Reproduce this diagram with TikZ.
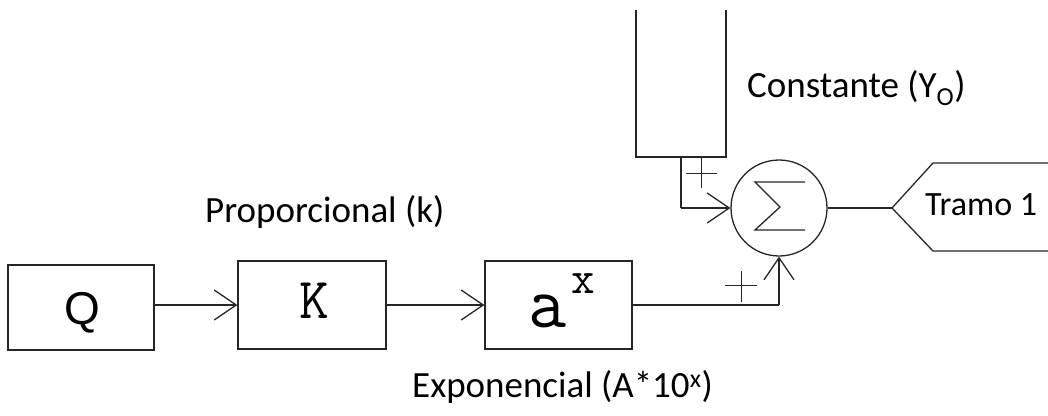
\documentclass[tikz,border=0pt]{standalone}
\usepackage{fontspec}
\setmainfont{Carlito}
\newfontfamily\qfnt{Liberation Sans}
\usetikzlibrary{arrows.meta}
\tikzset{
  ln/.style={line width=1.3pt, draw=black!85},
  blk/.style={ln, rectangle, inner sep=0pt},
  arr/.style={ln, -{Straight Barb[length=22pt, width=30pt, line width=1.3pt]}},
  lbl/.style={font=\fontsize{37}{40}\selectfont, inner sep=0pt, anchor=base west},
  plus/.style={line width=1pt, draw=black!85}
}
\begin{document}
\begin{tikzpicture}[x=1pt,y=-1pt]
\useasboundingbox (0,0) rectangle (1048,415);
% blocks
\node[blk, minimum width=146pt, minimum height=85pt] (Q) at (81,307.5) {};
\node[blk, minimum width=148pt, minimum height=88pt] (K) at (312,305) {};
\node[blk, minimum width=147pt, minimum height=88pt] (A) at (558.5,305) {};
\node[ln, circle, minimum size=96pt, inner sep=0pt] (S) at (779,208) {};
% block texts
\node[anchor=base, inner sep=0pt] (qt) at (82,324) {\qfnt\fontsize{46}{50}\selectfont Q};
\node[anchor=base, inner sep=0pt, font=\ttfamily\fontsize{58}{60}\selectfont] (kt) at (314,318) {K};
\node[anchor=base, inner sep=0pt, font=\ttfamily\fontsize{74}{76}\selectfont] (at) at (548,327) {a};
\node[anchor=base, inner sep=0pt, font=\ttfamily\fontsize{46}{48}\selectfont] (xt) at (583,293) {x};
% sigma
\draw[ln] (805,182) -- (755,182) -- (780,207) -- (755,230) -- (805,230);
% constant source (open top)
\coordinate (c1) at (636,10);
\coordinate (c2) at (726,10);
\coordinate (cb) at (681,157);
\draw[ln] (c1) -- (636,157) -- (726,157) -- (c2);
% output connector shape
\coordinate (tip) at (892,208);
\draw[ln] (1048,163) -- (933,163) -- (tip) -- (933,251) -- (1048,251);
% connectors
\draw[arr] (Q.east |- K.west) -- (K.west);
\draw[arr] (K.east) -- (A.west);
\draw[ln] (A.east) -- (S.south |- A.east);
\draw[arr] (S.south |- A.east) -- (S.south);
\draw[ln] (cb) -- (cb |- S.west);
\draw[arr] (cb |- S.west) -- (S.west);
\draw[ln] (S.east) -- (tip);
% plus signs
\draw[plus] (725,285) -- (757,285) (741,271) -- (741,302);
\draw[plus] (686,173) -- (717,173) (701,158) -- (701,188);
% labels
\node[lbl] (lp) at (205,222) {Proporcional (k)};
\node[lbl] (le) at (412,397) {Exponencial (A*10\textsuperscript{x})};
\node[lbl] (lc) at (747,97) {Constante (Y\textsubscript{O})};
\node[lbl, font=\fontsize{34}{36}\selectfont] (lt) at (925,215) {Tramo 1};
\end{tikzpicture}
\end{document}
